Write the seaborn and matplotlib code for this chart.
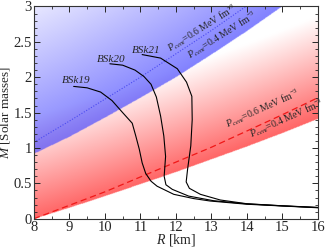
import numpy as np
import pandas as pd
import matplotlib
matplotlib.use('Agg')
import matplotlib.pyplot as plt
import seaborn as sns

# Mass-radius curves (R [km], M [solar masses])
bsk19_r = [9.12, 9.5, 9.88, 10.2, 10.5, 10.77, 10.87, 10.97, 11.05, 11.15, 11.3, 11.47, 11.94, 12.5, 12.97, 14.0, 15.0, 16.0]
bsk19_m = [1.87, 1.85, 1.79, 1.67, 1.50, 1.35, 1.17, 0.98, 0.79, 0.64, 0.53, 0.46, 0.345, 0.285, 0.25, 0.205, 0.18, 0.155]

bsk20_r = [10.14, 10.5, 10.85, 11.1, 11.3, 11.45, 11.57, 11.66, 11.71, 11.67, 11.72, 11.9, 12.36, 13.06, 14.0, 15.0, 16.0]
bsk20_m = [2.19, 2.17, 2.10, 2.01, 1.90, 1.72, 1.45, 1.17, 0.88, 0.60, 0.48, 0.415, 0.32, 0.255, 0.21, 0.182, 0.158]

bsk21_r = [11.05, 11.57, 12.04, 12.3, 12.45, 12.46, 12.42, 12.33, 12.29, 12.38, 12.69, 13.25, 14.0, 15.0, 16.0]
bsk21_m = [2.32, 2.27, 2.12, 1.93, 1.73, 1.40, 1.03, 0.70, 0.52, 0.43, 0.345, 0.265, 0.212, 0.183, 0.16]

models = ['BSk19', 'BSk20', 'BSk21']
label_r = [9.20, 10.19, 11.17]
label_m = [1.92, 2.22, 2.34]

# central-pressure boundaries (crust thickness constraint)
blue_edge_r = [8, 9, 10, 11, 12, 13, 14, 15, 16]
blue_edge_m = [0.92, 1.16, 1.43, 1.71, 2.00, 2.32, 2.65, 3.00, 3.38]
blue_line_r = [8, 9, 10, 11, 12, 13, 14]
blue_line_m = [1.08, 1.38, 1.69, 2.00, 2.33, 2.66, 3.01]

red_edge_r = [8, 9, 10, 11, 12, 13, 14, 15, 16]
red_edge_m = [0.0, 0.157, 0.32, 0.49, 0.66, 0.84, 1.02, 1.21, 1.41]
red_line_r = [8, 9, 10, 11, 12, 13, 14, 15, 16]
red_line_m = [0.0, 0.19, 0.38, 0.59, 0.80, 1.01, 1.24, 1.47, 1.71]

p_labels = [r'$P_{cent}$=0.6 MeV fm$^{-3}$', r'$P_{cent}$=0.4 MeV fm$^{-3}$']


sns.set_style('ticks')
plt.rcParams['font.family'] = ['Liberation Serif', 'DejaVu Serif']
plt.rcParams['mathtext.fontset'] = 'custom'
plt.rcParams['mathtext.rm'] = 'Liberation Serif'
plt.rcParams['mathtext.it'] = 'Liberation Serif:italic'

fig = plt.figure(figsize=(3.26, 2.48), dpi=100)
ax = fig.add_axes([0.104, 0.118, 0.871, 0.856])

# gradient shading of the two bands
gr = np.linspace(8, 16, 480)
gm = np.linspace(0, 3, 360)
RR, MM = np.meshgrid(gr, gm)
red_low = np.interp(RR, red_edge_r, red_edge_m)
blue_low = np.interp(RR, blue_edge_r, blue_edge_m)

d_red = MM - red_low
a_red = np.where(d_red >= 0, 0.8 * np.clip(1 - d_red / 1.45, 0, 1), 0.0)
d_blue = MM - blue_low
a_blue = np.where(d_blue >= 0, 0.1 + 0.6 * np.clip(1 - d_blue / 2.2, 0, 1), 0.0)

red_c = np.array([1.0, 0.25, 0.25])
blue_c = np.array([0.3, 0.3, 1.0])
img = np.ones(RR.shape + (3,))
img = img * (1 - a_red[..., None]) + red_c * a_red[..., None]
img = img * (1 - a_blue[..., None]) + blue_c * a_blue[..., None]
ax.imshow(img, extent=[8, 16, 0, 3], origin='lower', aspect='auto',
          interpolation='bilinear', zorder=0)

# pressure lines
ax.plot(blue_line_r, blue_line_m, color='#4a4af0', lw=0.8, ls=(0, (1, 1.5)), zorder=2)
ax.plot(red_line_r, red_line_m, color='#f01818', lw=0.9, ls=(0, (5, 3)), zorder=2)

# mass-radius curves
frames = []
for name, r, m in zip(models, [bsk19_r, bsk20_r, bsk21_r], [bsk19_m, bsk20_m, bsk21_m]):
    frames.append(pd.DataFrame({'R': r, 'M': m, 'model': name}))
df = pd.concat(frames, ignore_index=True)
sns.lineplot(data=df, x='R', y='M', units='model', estimator=None, sort=False,
             color='black', lw=0.8, ax=ax, zorder=3)

for name, r, m in zip(models, label_r, label_m):
    ax.text(r, m, name, fontsize=8, style='italic', ha='center', va='baseline')

# pressure annotations
ax.text(11.85, 2.35, p_labels[0], fontsize=7, rotation=32, rotation_mode='anchor',
        ha='left', va='baseline')
ax.text(12.41, 2.25, p_labels[1], fontsize=7, rotation=32, rotation_mode='anchor',
        ha='left', va='baseline')
ax.text(13.45, 1.29, p_labels[0], fontsize=7, rotation=24, rotation_mode='anchor',
        ha='left', va='baseline')
ax.text(14.14, 1.15, p_labels[1], fontsize=7, rotation=24, rotation_mode='anchor',
        ha='left', va='baseline')

ax.set_xlim(8, 16)
ax.set_ylim(0, 3)
ax.set_xticks(range(8, 17))
ax.set_yticks([0, 0.5, 1, 1.5, 2, 2.5, 3])
ax.set_yticklabels(['0', '0.5', '1', '1.5', '2', '2.5', '3'])
ax.set_xticks(np.arange(8, 16.01, 0.5), minor=True)
ax.set_yticks(np.arange(0, 3.01, 0.1), minor=True)
ax.tick_params(which='both', direction='in', top=True, right=True, labelsize=10.5, pad=1.5)
ax.tick_params(which='major', length=4, width=0.7)
ax.tick_params(which='minor', length=2, width=0.6)
for s in ax.spines.values():
    s.set_linewidth(0.8)
    s.set_color('#333333')

ax.set_xlabel(r'$R$ [km]', fontsize=10, labelpad=-1)
ax.set_ylabel(r'$M$ [Solar masses]', fontsize=9.5)
ax.yaxis.set_label_coords(-0.078, 0.5)

fig.savefig('out.png', dpi=100)
